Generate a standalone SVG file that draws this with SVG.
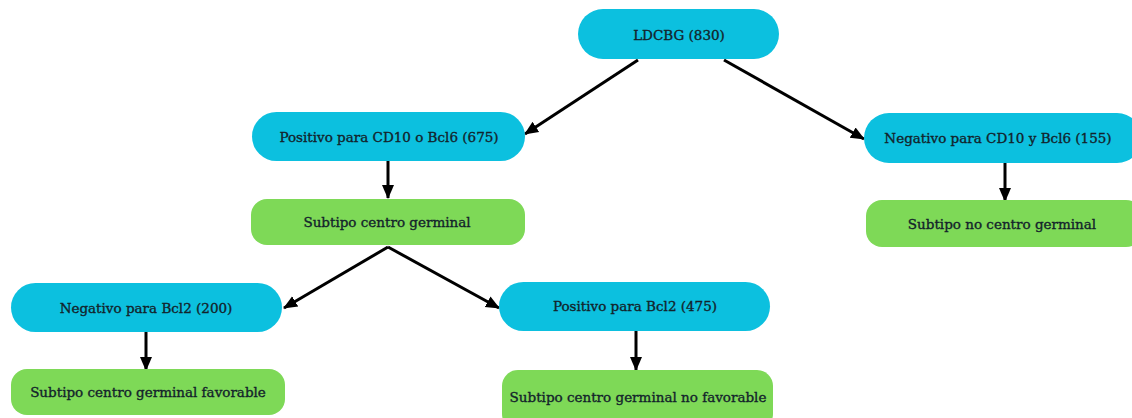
<svg xmlns="http://www.w3.org/2000/svg" width="1132" height="418" viewBox="0 0 1132 418">
<style>
.b{fill:#0CC0DF}
.g{fill:#7ED957}
.t{font-family:"DejaVu Serif","Liberation Serif",serif;font-size:13.5px;fill:#13232b;stroke:#13232b;stroke-width:0.35;text-anchor:middle;dominant-baseline:central}
.c{stroke:#000;stroke-width:3;fill:none;marker-end:url(#ah)}
</style>
<defs>
<marker id="ah" markerUnits="userSpaceOnUse" markerWidth="14" markerHeight="14" viewBox="0 0 14 14" refX="13" refY="7" orient="auto">
<path d="M0,1 L14,7 L0,13 Z" fill="#000"/>
</marker>
</defs>
<rect width="1132" height="418" fill="#fff"/>
<g id="connectors">
<path class="c" d="M638,60 L525,134"/>
<path class="c" d="M724,60 L864,139"/>
<path class="c" d="M388,161 L388,198"/>
<path class="c" d="M1005,163 L1005,201"/>
<path class="c" d="M388,247 L284,308"/>
<path class="c" d="M388,247 L499,308"/>
<path class="c" d="M146,332 L146,370"/>
<path class="c" d="M636,331 L636,370"/>
</g>
<g id="n1"><rect class="b" x="578" y="9" width="201" height="50" rx="25"/><text class="t" x="679" y="35">LDCBG (830)</text></g>
<g id="n2"><rect class="b" x="252" y="112" width="273" height="49" rx="24.5"/><text class="t" x="389" y="137">Positivo para CD10 o Bcl6 (675)</text></g>
<g id="n3"><rect class="g" x="251" y="199" width="274" height="46" rx="16"/><text class="t" x="387" y="222">Subtipo centro germinal</text></g>
<g id="n4"><rect class="b" x="864" y="113" width="278" height="50" rx="25"/><text class="t" x="998" y="138">Negativo para CD10 y Bcl6 (155)</text></g>
<g id="n5"><rect class="g" x="866" y="200" width="276" height="47" rx="16"/><text class="t" x="1002" y="224">Subtipo no centro germinal</text></g>
<g id="n6"><rect class="b" x="11" y="283" width="271" height="49" rx="24.5"/><text class="t" x="146" y="308">Negativo para Bcl2 (200)</text></g>
<g id="n7"><rect class="g" x="11" y="369" width="274" height="46" rx="16"/><text class="t" x="148" y="392">Subtipo centro germinal favorable</text></g>
<g id="n8"><rect class="b" x="499" y="282" width="271" height="49" rx="24.5"/><text class="t" x="635" y="306">Positivo para Bcl2 (475)</text></g>
<g id="n9"><rect class="g" x="502" y="370" width="271" height="60" rx="16"/><text class="t" x="638" y="397">Subtipo centro germinal no favorable</text></g>
</svg>
